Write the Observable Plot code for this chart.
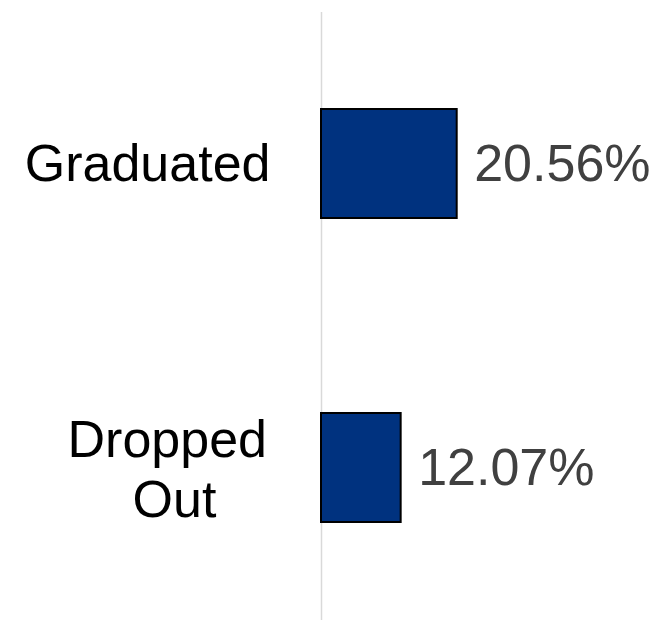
<!DOCTYPE html>
<html>
<head>
<meta charset="utf-8">
<script src="https://cdn.jsdelivr.net/npm/d3@7"></script>
<script src="https://cdn.jsdelivr.net/npm/@observablehq/plot@0.6"></script>
<style>
  html, body { margin: 0; padding: 0; background: #fff; }
</style>
</head>
<body>
<div id="chart"></div>
<script>
const categories = ["Graduated", "Dropped Out"];
const categoryLabels = ["Graduated", "Dropped\u00a0\nOut"];
const values = [20.56, 12.07];
const valueLabels = ["20.56%", "12.07%"];

const data = categories.map((c, i) => ({
  category: c,
  label: categoryLabels[i],
  value: values[i],
  valueLabel: valueLabels[i]
}));

const font = "'Liberation Sans', Arial, sans-serif";

const chart = Plot.plot({
  width: 659,
  height: 620,
  marginLeft: 321,
  marginRight: 140,
  marginTop: 12,
  marginBottom: 0,
  style: { fontFamily: font, background: "#fff" },
  x: { domain: [0, 30], axis: null },
  y: { domain: categories, axis: null, paddingInner: 0.64, paddingOuter: 0.32 },
  marks: [
    Plot.ruleX([0], { stroke: "#d9d9d9", strokeWidth: 1.5 }),
    Plot.barX(data, {
      x: "value",
      y: "category",
      fill: "#00327f",
      stroke: "#000",
      strokeWidth: 2
    }),
    Plot.text(data, {
      x: "value",
      y: "category",
      text: "valueLabel",
      textAnchor: "start",
      dx: 17,
      fontSize: 52,
      fill: "#404040"
    }),
    Plot.text(data.filter(d => d.category === "Graduated"), {
      x: 0,
      y: "category",
      text: "label",
      textAnchor: "end",
      dx: -51,
      fontSize: 52,
      fill: "#000"
    }),
    Plot.text(data.filter(d => d.category === "Dropped Out"), {
      x: 0,
      y: "category",
      text: "label",
      textAnchor: "middle",
      lineAnchor: "middle",
      lineHeight: 1.15,
      dx: -147,
      fontSize: 52,
      fill: "#000"
    })
  ]
});

document.getElementById("chart").appendChild(chart);
</script>
</body>
</html>
